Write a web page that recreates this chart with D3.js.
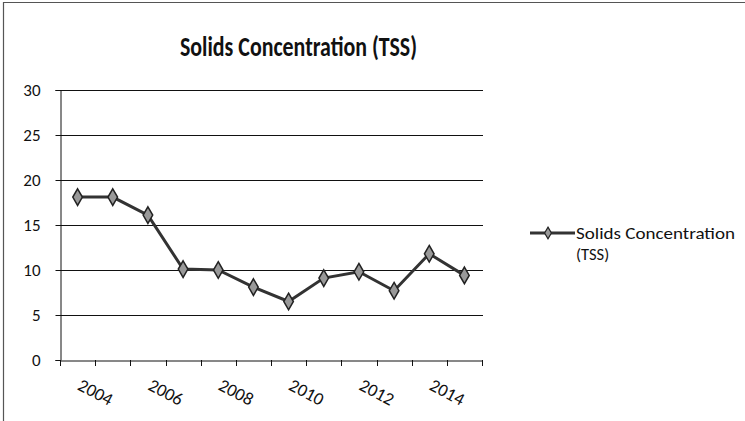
<!DOCTYPE html>
<html><head><meta charset="utf-8">
<script src="https://cdn.jsdelivr.net/npm/d3@7"></script>
<style>body{margin:0;background:#fff}svg{display:block}</style>
</head><body>
<script>
const years = ["2004","2005","2006","2007","2008","2009","2010","2011","2012","2013","2014","2015"];
const tss = [18.1, 18.1, 16.1, 10.1, 10.0, 8.1, 6.5, 9.1, 9.8, 7.7, 11.8, 9.4];
const yTicks = [0, 5, 10, 15, 20, 25, 30];
const labeledYears = ["2004","2006","2008","2010","2012","2014"];
const seriesName = ["Solids Concentration", "(TSS)"];
const titleText = "Solids Concentration (TSS)";

const W = 745, H = 421;
const svg = d3.select("body").append("svg").attr("width", W).attr("height", H);
const font = "Carlito, 'Open Sans', Lato, sans-serif";

// frame
svg.append("line").attr("x1",3).attr("x2",W).attr("y1",2.5).attr("y2",2.5).attr("stroke","#555").attr("stroke-width",1.2);
svg.append("line").attr("x1",3.5).attr("x2",3.5).attr("y1",2).attr("y2",H).attr("stroke","#555").attr("stroke-width",1.2);

const x = d3.scaleBand().domain(years).range([60, 482]);
const y = d3.scaleLinear().domain([0, 30]).range([360, 90]);

svg.append("text").attr("x", 180).attr("y", 56)
  .attr("textLength", 237).attr("lengthAdjust","spacingAndGlyphs")
  .attr("font-family", font).attr("font-weight","bold").attr("font-size", 29).attr("fill","#111").text(titleText);

// gridlines
svg.append("g").selectAll("line").data(yTicks.filter(d=>d>0)).join("line")
  .attr("x1",60).attr("x2",483).attr("y1",d=>Math.round(y(d))+0.5).attr("y2",d=>Math.round(y(d))+0.5)
  .attr("stroke","#111").attr("stroke-width",1);

// y axis
const ya = svg.append("g").attr("transform","translate(60.5,0)")
  .call(d3.axisLeft(y).tickValues(yTicks).tickSize(5).tickPadding(15));
ya.select(".domain").attr("stroke","#111");
ya.selectAll("line").attr("stroke","#111");
ya.selectAll("text").attr("font-family",font).attr("font-size",17).attr("fill","#111");

// x axis
const xa = svg.append("g").attr("transform","translate(0,360.5)")
  .call(d3.axisBottom(x).tickSize(0).tickFormat(""));
xa.select(".domain").attr("stroke","#111");
svg.append("g").selectAll("line").data(d3.range(years.length+1)).join("line")
  .attr("x1",i=>Math.round(60 + i*x.step())+0.5).attr("x2",i=>Math.round(60 + i*x.step())+0.5)
  .attr("y1",360).attr("y2",366).attr("stroke","#111");
svg.append("g").selectAll("text").data(labeledYears).join("text")
  .attr("transform", d=>`translate(${x(d)+x.bandwidth()/2 - 1},${389}) rotate(28)`)
  .attr("font-family",font).attr("font-size",18).attr("fill","#111").text(d=>d);

// line
const pts = years.map((yr,i)=>[x(yr)+x.bandwidth()/2, y(tss[i])]);
svg.append("path").attr("d", d3.line()(pts)).attr("fill","none").attr("stroke","#333").attr("stroke-width",3);
const diamond = d3.symbol().type(d3.symbolDiamond).size(80);
svg.append("g").selectAll("path").data(pts).join("path")
  .attr("transform",d=>`translate(${d[0]},${d[1]})`).attr("d",diamond)
  .attr("fill","#999").attr("stroke","#222").attr("stroke-width",1.5);

// legend
svg.append("line").attr("x1",530).attr("x2",575).attr("y1",233).attr("y2",233).attr("stroke","#333").attr("stroke-width",3);
svg.append("path").attr("transform","translate(548,233)").attr("d",d3.symbol().type(d3.symbolDiamond).size(40)())
  .attr("fill","#999").attr("stroke","#222").attr("stroke-width",1.2);
svg.append("text").attr("x",576).attr("y",239).attr("font-family",font).attr("font-size",16.5)
  .attr("textLength",159).attr("lengthAdjust","spacingAndGlyphs").attr("fill","#111").text(seriesName[0]);
svg.append("text").attr("x",576).attr("y",259.5).attr("font-family",font).attr("font-size",16.5)
  .attr("fill","#111").text(seriesName[1]);
</script>
</body></html>
